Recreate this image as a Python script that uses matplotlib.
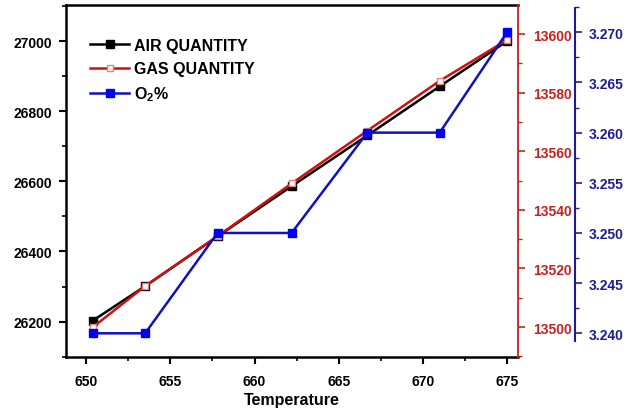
import matplotlib.pyplot as plt
from matplotlib.ticker import MultipleLocator

plt.rcParams["font.family"] = ["Liberation Sans", "DejaVu Sans"]
plt.rcParams["font.weight"] = "bold"
plt.rcParams["mathtext.fontset"] = "custom"
plt.rcParams["mathtext.bf"] = "Liberation Sans:bold"
plt.rcParams["mathtext.rm"] = "Liberation Sans:bold"
plt.rcParams["mathtext.default"] = "bf"

# data
temperature = [650.4, 653.5, 657.8, 662.2, 666.7, 671.0, 675.0]
air_quantity = [26203, 26301, 26443, 26586, 26731, 26871, 27000]
gas_quantity = [13500, 13514, 13531, 13549, 13567, 13584, 13598]
o2_percent = [3.240, 3.240, 3.250, 3.250, 3.260, 3.260, 3.270]

red = "#c8201e"
blue = "#1c1c96"

fig = plt.figure(figsize=(6.33, 4.14), dpi=100)
ax = fig.add_axes([0.1043, 0.1353, 0.714, 0.8502])

l1, = ax.plot(temperature, air_quantity, "-s", color="black", lw=1.8,
              ms=5.5, mfc="black", mec="black", label="AIR QUANTITY")
ax.set_xlim(648.8, 675.65)
ax.set_ylim(26099, 27103)
ax.xaxis.set_major_locator(MultipleLocator(5))
ax.xaxis.set_minor_locator(MultipleLocator(2.5))
ax.yaxis.set_major_locator(MultipleLocator(200))
ax.yaxis.set_minor_locator(MultipleLocator(100))
ax.set_xlabel("Temperature", fontsize=11.5, fontweight="bold", labelpad=3)
for s in ax.spines.values():
    s.set_linewidth(1.8)
ax.spines["right"].set_visible(False)
ax.tick_params(which="major", length=5, width=1.5, labelsize=10, pad=5)
ax.tick_params(which="minor", length=3, width=1.2)
ax.tick_params(axis="x", pad=7)

# gas quantity on red axis
ax2 = ax.twinx()
l2, = ax2.plot(temperature, gas_quantity, "-s", color="#d01010", lw=1.8,
               ms=5, mfc="white", mec="#e88080", mew=1.0,
               label="GAS QUANTITY")
ax2.set_ylim(13489.8, 13609.9)
ax2.yaxis.set_major_locator(MultipleLocator(20))
ax2.yaxis.set_minor_locator(MultipleLocator(10))
for k in ["left", "top", "bottom"]:
    ax2.spines[k].set_visible(False)
ax2.spines["right"].set_color(red)
ax2.spines["right"].set_linewidth(1.3)
ax2.tick_params(which="major", length=5, width=1.2, colors=red,
                labelsize=10, pad=6)
ax2.tick_params(which="minor", length=3, width=1.0, colors=red)

# O2 on blue axis, offset to the right
ax3 = ax.twinx()
l3, = ax3.plot(temperature, o2_percent, "-s", color="#1010c0", lw=1.8,
               ms=5.5, mfc="#0000ff", mec="#0000ff", label="O$_2$%")
ax3.set_ylim(3.23764, 3.27272)
ax3.yaxis.set_major_locator(MultipleLocator(0.005))
ax3.yaxis.set_minor_locator(MultipleLocator(0.0025))
ax3.yaxis.set_major_formatter(lambda v, p: f"{v:.3f}")
for k in ["left", "top", "bottom"]:
    ax3.spines[k].set_visible(False)
ax3.spines["right"].set_position(("axes", 1.126))
ax3.spines["right"].set_color(blue)
ax3.spines["right"].set_linewidth(1.5)
ax3.spines["right"].set_bounds(3.2392, 3.2724)
ax3.tick_params(which="major", length=5, width=1.2, colors=blue,
                labelsize=10, pad=5)
ax3.tick_params(which="minor", length=3, width=1.0, colors=blue)

ax3.legend(handles=[l1, l2, l3], loc="upper left", frameon=False,
           bbox_to_anchor=(0.04, 0.925), fontsize=11.5, handlelength=2.4,
           handletextpad=0.3, labelspacing=0.52, borderaxespad=0)

fig.savefig("out.png", dpi=100)
